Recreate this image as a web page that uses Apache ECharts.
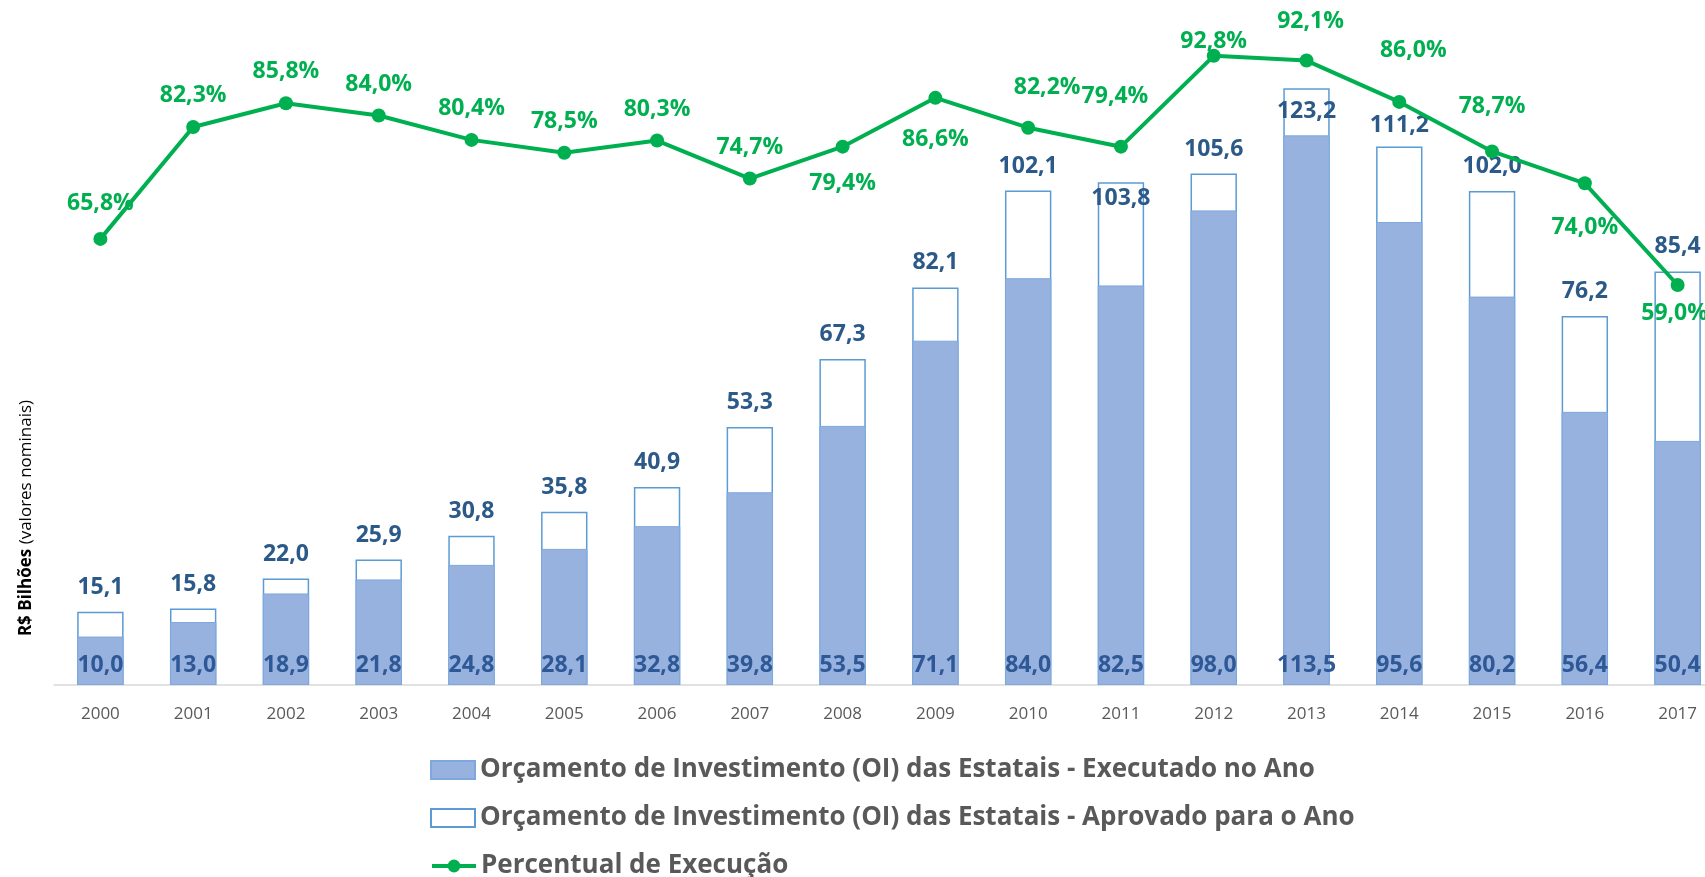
<!DOCTYPE html>
<html>
<head>
<meta charset="utf-8">
<script src="https://cdn.jsdelivr.net/npm/echarts@6/dist/echarts.min.js"></script>
<style>
html,body{margin:0;padding:0;background:#fff;overflow:hidden;width:1705px;height:877px;}
#chart{width:1730px;height:877px;}
</style>
</head>
<body>
<div id="chart"></div>
<script>
const years = ['2000','2001','2002','2003','2004','2005','2006','2007','2008','2009','2010','2011','2012','2013','2014','2015','2016','2017'];
const approved = [15.1,15.8,22.0,25.9,30.8,35.8,40.9,53.3,67.3,82.1,102.1,103.8,105.6,123.2,111.2,102.0,76.2,85.4];
const executed = [10.0,13.0,18.9,21.8,24.8,28.1,32.8,39.8,53.5,71.1,84.0,82.5,98.0,113.5,95.6,80.2,56.4,50.4];
const percent = [65.8,82.3,85.8,84.0,80.4,78.5,80.3,74.7,79.4,86.6,82.2,79.4,92.8,92.1,86.0,78.7,74.0,59.0];

const nameExec = 'Orçamento de Investimento (OI) das Estatais - Executado no Ano';
const nameAppr = 'Orçamento de Investimento (OI) das Estatais - Aprovado para o Ano';
const namePct = 'Percentual de Execução';

const fmt = v => v.toFixed(1).replace('.', ',');

// label placement tweaks (style only)
const pctLabelCfg = {
  0: {offset:[0,-4]},
  8: {position:'bottom', offset:[0,5]},
  9: {position:'bottom', offset:[0,10]},
  10: {offset:[19,-9]},
  11: {offset:[-6,-19]},
  12: {offset:[0,17]},
  13: {offset:[4,-8]},
  14: {offset:[14,-20]},
  15: {offset:[0,-13]},
  16: {position:'bottom', offset:[0,13]},
  17: {position:'bottom', offset:[-3,-3]}
};
const apprLabelCfg = {
  11: {offset:[0,41]},
  13: {offset:[0,48]},
  14: {offset:[0,3]}
};

const pctData = percent.map((v,i) => pctLabelCfg[i] ? {value:v, label:pctLabelCfg[i]} : v);
const apprData = approved.map((v,i) => apprLabelCfg[i] ? {value:v, label:apprLabelCfg[i]} : v);

const FONT = "'Open Sans', 'Noto Sans', sans-serif";
const legendText = {color:'#595959', fontSize:26, fontWeight:'bold', fontFamily:FONT, lineHeight:26};
function mkLegend(name, top, extra){
  return Object.assign({
    orient:'vertical', left:425, top:top, itemWidth:44, itemHeight:18, itemGap:0,
    textStyle:legendText, data:[name]
  }, extra || {});
}

const chart = echarts.init(document.getElementById('chart'), null, {renderer:'canvas'});
chart.setOption({
  backgroundColor:'#ffffff',
  animation:false,
  grid:{left:54, top:7, width:1670, height:678},
  legend:[
    mkLegend(nameExec, 752, {icon:'rect'}),
    mkLegend(nameAppr, 800, {icon:'rect'}),
    mkLegend(namePct, 848, {itemHeight:16, lineStyle:{width:4}})
  ],
  xAxis:{
    type:'category', data:years,
    axisLine:{lineStyle:{color:'#D9D9D9', width:1.5}},
    axisTick:{show:false},
    axisLabel:{color:'#595959', fontSize:17, fontFamily:FONT, margin:21}
  },
  yAxis:[
    {type:'value', min:0, max:140, show:false},
    {type:'value', min:0, max:100, show:false}
  ],
  graphic:[{
    type:'text', x:26, y:518, rotation:Math.PI/2,
    style:{
      text:'{b|R$ Bilhões} (valores nominais)',
      fill:'#000', font:"17px 'Open Sans', sans-serif",
      align:'center', verticalAlign:'middle',
      rich:{b:{fontWeight:'bold', fontSize:17, fontFamily:FONT, fill:'#000'}}
    }
  }],
  series:[
    {
      name:nameAppr, type:'bar', data:apprData, barWidth:'50%', barGap:'-100%',
      itemStyle:{color:'#ffffff', borderColor:'#5B9BD5', borderWidth:1.5},
      label:{show:true, position:'top', distance:13, formatter:p=>fmt(p.value),
        color:'#2C5A88', fontSize:23, fontWeight:'bold', fontFamily:FONT}
    },
    {
      name:nameExec, type:'bar', data:executed, barWidth:'50%', barGap:'-100%',
      itemStyle:{color:'#97B2DF', borderColor:'#7EA8DD', borderWidth:1},
      label:{show:true, position:'insideBottom', distance:8, formatter:p=>fmt(p.value),
        color:'#2F5896', fontSize:23, fontWeight:'bold', fontFamily:FONT}
    },
    {
      name:namePct, type:'line', yAxisIndex:1, data:pctData,
      symbol:'circle', symbolSize:14,
      lineStyle:{color:'#00B050', width:4},
      itemStyle:{color:'#00B050'},
      z:5,
      label:{show:true, position:'top', distance:13, formatter:p=>fmt(p.value)+'%',
        color:'#00B050', fontSize:23, fontWeight:'bold', fontFamily:FONT}
    }
  ]
});
</script>
</body>
</html>
